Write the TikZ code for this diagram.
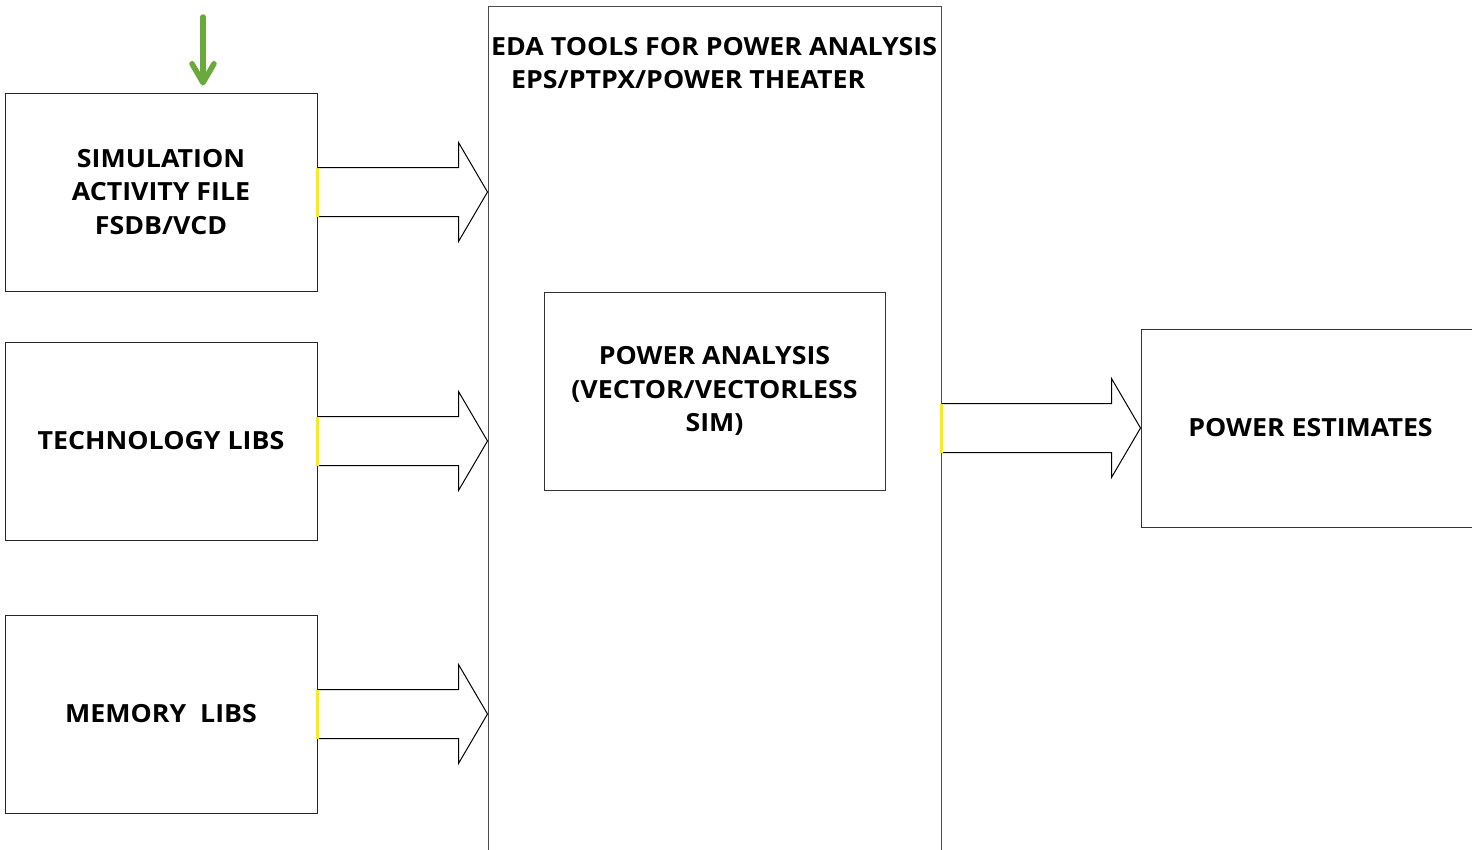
\documentclass[tikz,border=0pt]{standalone}
\usepackage{fontspec}
\setmainfont{Open Sans}[FakeStretch=1.07]
\usetikzlibrary{calc,arrows.meta}
\definecolor{arrgreen}{RGB}{106,170,60}
\definecolor{markyellow}{RGB}{250,240,0}
\begin{document}
\begin{tikzpicture}[x=1pt,y=-1pt,
  box/.style={draw=black!85,line width=1pt,rectangle,inner sep=0pt,align=center,
    font=\fontsize{25}{33.5}\selectfont\bfseries},
  lbl/.style={inner sep=0pt,align=center,font=\fontsize{25}{33.5}\selectfont\bfseries},
  blockarrow/.style={draw=black,line width=1pt,fill=white,line join=miter},
  yelmark/.style={draw=markyellow,line width=3pt},
  greenarr/.style={draw=arrgreen,line width=5.5pt,line cap=round,
    -{Straight Barb[length=19pt,width=22pt,line cap=round,line join=round]}}
]
\useasboundingbox (0,0) rectangle (1472,849);
% boxes
\node[box,minimum width=312,minimum height=198] (sim) at (161,192) {SIMULATION\\ACTIVITY FILE\\FSDB/VCD};
\node[box,minimum width=312,minimum height=198] (tech) at (161,441) {TECHNOLOGY LIBS};
\node[box,minimum width=312,minimum height=198] (mem) at (161,714) {MEMORY\ \ LIBS};
\node[box,draw=black!70,minimum width=453,minimum height=894] (eda) at (714.5,453) {};
\node[box,draw=black!80,minimum width=341,minimum height=198] (inner) at (714.5,391) {POWER ANALYSIS\\(VECTOR/VECTORLESS\\SIM)};
\node[box,draw=black!80,minimum width=339,minimum height=198] (est) at (1310.5,428) {POWER ESTIMATES};
% EDA title
\node[lbl,anchor=base west] (edat1) at (491,55) {EDA TOOLS FOR POWER ANALYSIS};
\node[lbl,anchor=base west] (edat2) at (511,88) {EPS/PTPX/POWER THEATER};
% block arrows
\newcommand\blockarr[2]{%
  \draw[blockarrow] let \p1=(#1), \p2=(#2) in
    (\x1,\y1+24.5) -- (\x2-29,\y1+24.5) -- (\x2-29,\y1+49.5) -- (\x2,\y1)
    -- (\x2-29,\y1-49.5) -- (\x2-29,\y1-24.5) -- (\x1,\y1-24.5);
  \draw[yelmark] let \p1=(#1) in (\x1,\y1+24.5) -- (\x1,\y1-24.5);
}
\coordinate (simout) at (sim.east);
\coordinate (techout) at (tech.east);
\coordinate (memout) at (mem.east);
\coordinate (edaout) at (eda.east |- est.west);
\blockarr{simout}{simout -| eda.west}
\blockarr{techout}{techout -| eda.west}
\blockarr{memout}{memout -| eda.west}
\blockarr{edaout}{est.west}
% green arrow
\coordinate (gtop) at (203,17);
\draw[greenarr] (gtop) -- ($(sim.north -| gtop)+(0,-7)$);
\end{tikzpicture}
\end{document}
